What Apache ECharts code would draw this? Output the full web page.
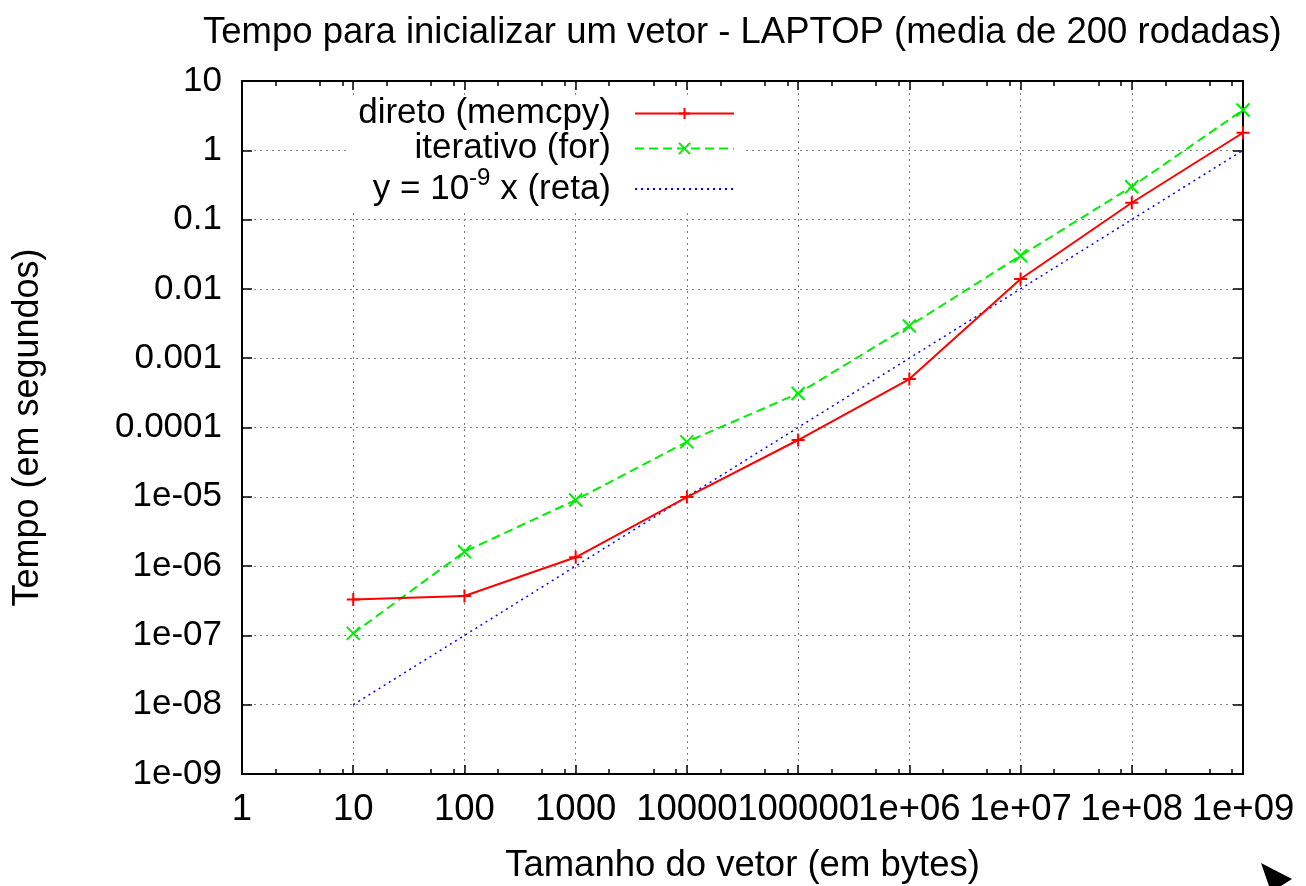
<!DOCTYPE html>
<html>
<head>
<meta charset="utf-8">
<script src="https://cdn.jsdelivr.net/npm/echarts@6/dist/echarts.min.js"></script>
<style>
html,body{margin:0;padding:0;background:#fff;}
#chart{width:1306px;height:886px;}
</style>
</head>
<body>
<div id="chart"></div>
<script>
// ---- data ----
const sizes = [10, 100, 1000, 10000, 100000, 1000000, 10000000, 100000000, 1000000000];
const direto = [3.3e-7, 3.7e-7, 1.34e-6, 9.9e-6, 6.6e-5, 5.0e-4, 0.0139, 0.175, 1.79];
const iterativo = [1.07e-7, 1.61e-6, 9.0e-6, 6.2e-5, 3.1e-4, 2.92e-3, 0.0301, 0.298, 3.82];
const reta = [1e-8, 1e-7, 1e-6, 1e-5, 1e-4, 1e-3, 1e-2, 1e-1, 1];
const xTickLabels = ['1', '10', '100', '1000', '10000', '100000', '1e+06', '1e+07', '1e+08', '1e+09'];
const yTickLabels = ['1e-09', '1e-08', '1e-07', '1e-06', '1e-05', '0.0001', '0.001', '0.01', '0.1', '1', '10'];
const xMinorTicks = [];
[1, 10, 100, 1000, 10000, 100000, 1e6, 1e7, 1e8].forEach(function (d) {
  [2, 5, 8].forEach(function (m) { xMinorTicks.push(d * m); });
});
const seriesNames = ['direto (memcpy)', 'iterativo (for)', 'y = 10^-9 x (reta)'];

const pairs = function (ys) { return sizes.map(function (x, i) { return [x, ys[i]]; }); };

const FONT = '"Liberation Sans", Arial, Helvetica, sans-serif';
const FS = 35;

const chart = echarts.init(document.getElementById('chart'), null, {renderer: 'canvas'});

const baseX = {
  type: 'log', logBase: 10, min: 1, max: 1e9, interval: 1,
  axisLine: {show: false}, axisTick: {show: false}, axisLabel: {show: false},
  splitLine: {show: false}
};
const baseY = {
  type: 'log', logBase: 10, min: 1e-9, max: 10, interval: 1,
  axisLine: {show: false}, axisTick: {show: false}, axisLabel: {show: false},
  splitLine: {show: false}
};
const frameLine = {show: true, onZero: false, lineStyle: {color: '#000', width: 2}};
const gridLine = {show: true, lineStyle: {color: '#808080', width: 1, type: [2, 4]}};

const option = {
  backgroundColor: '#fff',
  animation: false,
  textStyle: {fontFamily: FONT},
  title: {
    text: 'Tempo para inicializar um vetor - LAPTOP (media de 200 rodadas)',
    left: 198, top: 9,
    textStyle: {fontFamily: FONT, fontSize: 36.5, fontWeight: 'normal', color: '#000'}
  },
  grid: {left: 242, right: 63, top: 81, bottom: 112, containLabel: false, outerBoundsMode: 'none'},
  legend: {
    orient: 'vertical', align: 'right',
    right: 561, top: 96,
    padding: [0, 10, 0, 10],
    itemGap: 0, itemWidth: 99, itemHeight: 14,
    backgroundColor: '#fff',
    selectedMode: false,
    data: [
      {name: seriesNames[0]},
      {name: seriesNames[1]},
      {name: seriesNames[2], itemStyle: {opacity: 0}}
    ],
    formatter: function (name) {
      if (name === seriesNames[2]) {
        return '{n|y = 10}{s|-9}{n| x (reta)}{g|}';
      }
      return '{n|' + name + '}{g|}';
    },
    textStyle: {
      fontFamily: FONT, fontSize: FS, color: '#000',
      rich: {
        n: {fontFamily: FONT, fontSize: FS, color: '#000', lineHeight: 38},
        s: {fontFamily: FONT, fontSize: 24, color: '#000', lineHeight: 38, padding: [0, 0, 22, 0]},
        g: {width: 19, lineHeight: 38}
      }
    }
  },
  xAxis: [
    Object.assign({}, baseX, {
      position: 'bottom',
      name: 'Tamanho do vetor (em bytes)', nameLocation: 'middle', nameGap: 73,
      nameTextStyle: {fontFamily: FONT, fontSize: 36.5, color: '#000'},
      axisLine: frameLine,
      axisTick: {show: true, inside: true, length: 9, lineStyle: {color: '#000', width: 1.5}},
      axisLabel: {
        show: true, margin: 17, fontFamily: FONT, fontSize: 36.5, color: '#000',
        formatter: function (v) { return xTickLabels[Math.round(Math.log10(v))]; }
      },
      splitLine: gridLine
    }),
    Object.assign({}, baseX, {
      position: 'bottom',
      axisTick: {show: true, inside: true, length: 5, customValues: xMinorTicks, lineStyle: {color: '#000', width: 1.5}}
    }),
    Object.assign({}, baseX, {
      position: 'top',
      axisLine: frameLine,
      axisTick: {show: true, inside: true, length: 9, lineStyle: {color: '#000', width: 1.5}}
    }),
    Object.assign({}, baseX, {
      position: 'top',
      axisTick: {show: true, inside: true, length: 5, customValues: xMinorTicks, lineStyle: {color: '#000', width: 1.5}}
    })
  ],
  yAxis: [
    Object.assign({}, baseY, {
      position: 'left',
      name: 'Tempo (em segundos)', nameLocation: 'middle', nameGap: 196, nameRotate: 90,
      nameTextStyle: {fontFamily: FONT, fontSize: 36, color: '#000'},
      axisLine: frameLine,
      axisTick: {show: true, inside: true, length: 10, lineStyle: {color: '#000', width: 1.5}},
      axisLabel: {
        show: true, margin: 20, fontFamily: FONT, fontSize: FS, color: '#000',
        formatter: function (v) { return yTickLabels[Math.round(Math.log10(v)) + 9]; }
      },
      splitLine: gridLine
    }),
    Object.assign({}, baseY, {
      position: 'right',
      axisLine: frameLine,
      axisTick: {show: true, inside: true, length: 10, lineStyle: {color: '#000', width: 1.5}}
    })
  ],
  series: [
    {
      name: seriesNames[0], type: 'line', xAxisIndex: 0, yAxisIndex: 0,
      data: pairs(direto),
      symbol: 'path://M0,6L12,6M6,0L6,12', symbolSize: 13, symbolKeepAspect: true,
      lineStyle: {color: '#ff0000', width: 2, type: 'solid'},
      itemStyle: {color: '#ff0000', borderColor: '#ff0000', borderWidth: 2},
      z: 4
    },
    {
      name: seriesNames[1], type: 'line', xAxisIndex: 0, yAxisIndex: 0,
      data: pairs(iterativo),
      symbol: 'path://M0,0L12,12M12,0L0,12', symbolSize: 13, symbolKeepAspect: true,
      lineStyle: {color: '#00ee00', width: 2, type: [9, 5]},
      itemStyle: {color: '#00ee00', borderColor: '#00ee00', borderWidth: 2},
      z: 3
    },
    {
      name: seriesNames[2], type: 'line', xAxisIndex: 0, yAxisIndex: 0,
      data: pairs(reta),
      symbol: 'none',
      lineStyle: {color: '#0000ff', width: 1.5, type: [2, 4]},
      itemStyle: {color: '#0000ff'},
      z: 2
    }
  ],
  graphic: [
    {
      type: 'polygon', z: 100,
      shape: {points: [[1261, 863], [1292, 879], [1281, 886], [1269, 886]]},
      style: {fill: '#000'}
    }
  ]
};
chart.setOption(option);
</script>
</body>
</html>
